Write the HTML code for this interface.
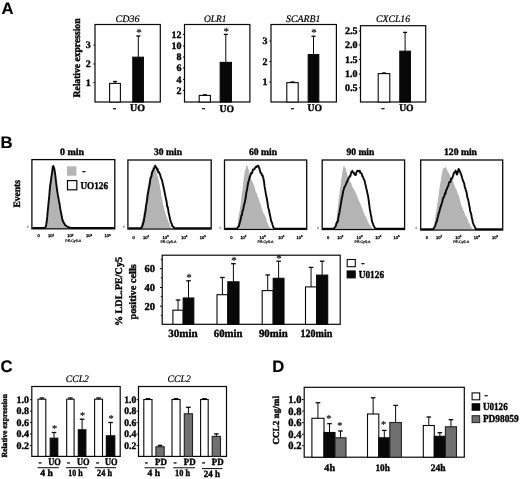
<!DOCTYPE html>
<html lang="en"><head><meta charset="utf-8"><title>Figure</title>
<style>
html,body{margin:0;padding:0;background:#fff;}
body{width:520px;height:479px;overflow:hidden;font-family:"Liberation Serif",serif;}
svg{display:block;}
</style></head><body>
<svg width="520" height="479" viewBox="0 0 520 479" text-rendering="geometricPrecision">
<rect width="520" height="479" fill="#fff"/>
<g style="filter:blur(0.3px)">
<text x="1.40" y="13.70" font-family="'Liberation Sans', sans-serif" font-size="16.7" font-weight="bold" font-style="normal" fill="#000" stroke="#000" stroke-width="0.15">A</text>
<text x="0.50" y="148.00" font-family="'Liberation Sans', sans-serif" font-size="16.7" font-weight="bold" font-style="normal" fill="#000" stroke="#000" stroke-width="0.15">B</text>
<text x="0.60" y="372.40" font-family="'Liberation Sans', sans-serif" font-size="16.7" font-weight="bold" font-style="normal" fill="#000" stroke="#000" stroke-width="0.15">C</text>
<text x="272.20" y="372.40" font-family="'Liberation Sans', sans-serif" font-size="16.7" font-weight="bold" font-style="normal" fill="#000" stroke="#000" stroke-width="0.15">D</text>
<rect x="95.00" y="24.50" width="65.30" height="77.50" fill="none" stroke="#080808" stroke-width="1.2"/>
<text x="127.50" y="21.80" font-family="'Liberation Serif', serif" font-size="10" font-weight="normal" font-style="italic" text-anchor="middle" textLength="24.00" lengthAdjust="spacingAndGlyphs" fill="#000" stroke="#000" stroke-width="0.22">CD36</text>
<path d="M93.40 45.00H95.00" stroke="#080808" stroke-width="1"/>
<text x="90.70" y="48.40" font-family="'Liberation Serif', serif" font-size="10" font-weight="bold" font-style="normal" text-anchor="end" fill="#000" stroke="#000" stroke-width="0.38">3</text>
<path d="M93.40 64.00H95.00" stroke="#080808" stroke-width="1"/>
<text x="90.70" y="67.40" font-family="'Liberation Serif', serif" font-size="10" font-weight="bold" font-style="normal" text-anchor="end" fill="#000" stroke="#000" stroke-width="0.38">2</text>
<path d="M93.40 82.40H95.00" stroke="#080808" stroke-width="1"/>
<text x="90.70" y="85.80" font-family="'Liberation Serif', serif" font-size="10" font-weight="bold" font-style="normal" text-anchor="end" fill="#000" stroke="#000" stroke-width="0.38">1</text>
<rect x="109.60" y="83.40" width="10.80" height="18.60" fill="#fff" stroke="#080808" stroke-width="1.1"/>
<path d="M115.00 83.40V81.30" stroke="#080808" stroke-width="1.0" fill="none"/><path d="M113.00 81.50H117.00" stroke="#080808" stroke-width="1.3" fill="none"/>
<rect x="132.80" y="57.20" width="10.60" height="44.80" fill="#080808" stroke="#080808" stroke-width="1.1"/>
<path d="M138.30 57.20V35.80" stroke="#080808" stroke-width="1.0" fill="none"/><path d="M136.30 36.00H140.30" stroke="#080808" stroke-width="1.3" fill="none"/>
<text x="139.00" y="35.59" font-family="'Liberation Serif', serif" font-size="11" font-weight="normal" font-style="normal" text-anchor="middle" fill="#000" stroke="#000" stroke-width="0.15">*</text>
<text x="114.50" y="111.00" font-family="'Liberation Serif', serif" font-size="10" font-weight="bold" font-style="normal" text-anchor="middle" fill="#000" stroke="#000" stroke-width="0.38">-</text>
<text x="137.60" y="111.00" font-family="'Liberation Serif', serif" font-size="10" font-weight="bold" font-style="normal" text-anchor="middle" textLength="15.00" lengthAdjust="spacingAndGlyphs" fill="#000" stroke="#000" stroke-width="0.38">UO</text>
<text x="80.20" y="97.50" font-family="'Liberation Serif', serif" font-size="10" font-weight="bold" font-style="normal" textLength="79.00" lengthAdjust="spacingAndGlyphs" transform="rotate(-90 80.20 97.50)" fill="#000" stroke="#000" stroke-width="0.38">Relative expression</text>
<rect x="184.50" y="24.50" width="65.40" height="77.50" fill="none" stroke="#080808" stroke-width="1.2"/>
<text x="215.20" y="21.80" font-family="'Liberation Serif', serif" font-size="10" font-weight="normal" font-style="italic" text-anchor="middle" textLength="22.40" lengthAdjust="spacingAndGlyphs" fill="#000" stroke="#000" stroke-width="0.22">OLR1</text>
<path d="M182.90 34.40H184.50" stroke="#080808" stroke-width="1"/>
<text x="181.60" y="37.80" font-family="'Liberation Serif', serif" font-size="10" font-weight="bold" font-style="normal" text-anchor="end" fill="#000" stroke="#000" stroke-width="0.38">12</text>
<path d="M182.90 46.00H184.50" stroke="#080808" stroke-width="1"/>
<text x="181.60" y="49.40" font-family="'Liberation Serif', serif" font-size="10" font-weight="bold" font-style="normal" text-anchor="end" fill="#000" stroke="#000" stroke-width="0.38">10</text>
<path d="M182.90 57.00H184.50" stroke="#080808" stroke-width="1"/>
<text x="181.60" y="60.40" font-family="'Liberation Serif', serif" font-size="10" font-weight="bold" font-style="normal" text-anchor="end" fill="#000" stroke="#000" stroke-width="0.38">8</text>
<path d="M182.90 68.00H184.50" stroke="#080808" stroke-width="1"/>
<text x="181.60" y="71.40" font-family="'Liberation Serif', serif" font-size="10" font-weight="bold" font-style="normal" text-anchor="end" fill="#000" stroke="#000" stroke-width="0.38">6</text>
<path d="M182.90 79.40H184.50" stroke="#080808" stroke-width="1"/>
<text x="181.60" y="82.80" font-family="'Liberation Serif', serif" font-size="10" font-weight="bold" font-style="normal" text-anchor="end" fill="#000" stroke="#000" stroke-width="0.38">4</text>
<path d="M182.90 90.40H184.50" stroke="#080808" stroke-width="1"/>
<text x="181.60" y="93.80" font-family="'Liberation Serif', serif" font-size="10" font-weight="bold" font-style="normal" text-anchor="end" fill="#000" stroke="#000" stroke-width="0.38">2</text>
<rect x="199.20" y="95.40" width="11.20" height="6.60" fill="#fff" stroke="#080808" stroke-width="1.1"/>
<path d="M204.80 95.40V94.60" stroke="#080808" stroke-width="1.0" fill="none"/><path d="M202.80 94.80H206.80" stroke="#080808" stroke-width="1.3" fill="none"/>
<rect x="220.20" y="62.40" width="11.20" height="39.60" fill="#080808" stroke="#080808" stroke-width="1.1"/>
<path d="M225.80 62.40V34.20" stroke="#080808" stroke-width="1.0" fill="none"/><path d="M223.80 34.40H227.80" stroke="#080808" stroke-width="1.3" fill="none"/>
<text x="226.30" y="34.99" font-family="'Liberation Serif', serif" font-size="11" font-weight="normal" font-style="normal" text-anchor="middle" fill="#000" stroke="#000" stroke-width="0.15">*</text>
<text x="203.50" y="111.40" font-family="'Liberation Serif', serif" font-size="10" font-weight="bold" font-style="normal" text-anchor="middle" fill="#000" stroke="#000" stroke-width="0.38">-</text>
<text x="226.80" y="111.60" font-family="'Liberation Serif', serif" font-size="10" font-weight="bold" font-style="normal" text-anchor="middle" textLength="14.50" lengthAdjust="spacingAndGlyphs" fill="#000" stroke="#000" stroke-width="0.38">UO</text>
<rect x="271.00" y="24.50" width="65.40" height="77.50" fill="none" stroke="#080808" stroke-width="1.2"/>
<text x="303.20" y="21.80" font-family="'Liberation Serif', serif" font-size="10" font-weight="normal" font-style="italic" text-anchor="middle" textLength="34.40" lengthAdjust="spacingAndGlyphs" fill="#000" stroke="#000" stroke-width="0.22">SCARB1</text>
<path d="M269.40 41.00H271.00" stroke="#080808" stroke-width="1"/>
<text x="267.50" y="44.40" font-family="'Liberation Serif', serif" font-size="10" font-weight="bold" font-style="normal" text-anchor="end" fill="#000" stroke="#000" stroke-width="0.38">3</text>
<path d="M269.40 61.60H271.00" stroke="#080808" stroke-width="1"/>
<text x="267.50" y="65.00" font-family="'Liberation Serif', serif" font-size="10" font-weight="bold" font-style="normal" text-anchor="end" fill="#000" stroke="#000" stroke-width="0.38">2</text>
<path d="M269.40 82.00H271.00" stroke="#080808" stroke-width="1"/>
<text x="267.50" y="85.40" font-family="'Liberation Serif', serif" font-size="10" font-weight="bold" font-style="normal" text-anchor="end" fill="#000" stroke="#000" stroke-width="0.38">1</text>
<rect x="286.80" y="82.60" width="11.40" height="19.40" fill="#fff" stroke="#080808" stroke-width="1.1"/>
<path d="M292.50 82.60V81.80" stroke="#080808" stroke-width="1.0" fill="none"/><path d="M290.50 82.00H294.50" stroke="#080808" stroke-width="1.3" fill="none"/>
<rect x="308.20" y="54.60" width="10.60" height="47.40" fill="#080808" stroke="#080808" stroke-width="1.1"/>
<path d="M313.50 54.60V36.00" stroke="#080808" stroke-width="1.0" fill="none"/><path d="M311.50 36.20H315.50" stroke="#080808" stroke-width="1.3" fill="none"/>
<text x="314.00" y="35.59" font-family="'Liberation Serif', serif" font-size="11" font-weight="normal" font-style="normal" text-anchor="middle" fill="#000" stroke="#000" stroke-width="0.15">*</text>
<text x="292.50" y="111.00" font-family="'Liberation Serif', serif" font-size="10" font-weight="bold" font-style="normal" text-anchor="middle" fill="#000" stroke="#000" stroke-width="0.38">-</text>
<text x="314.80" y="111.00" font-family="'Liberation Serif', serif" font-size="10" font-weight="bold" font-style="normal" text-anchor="middle" textLength="14.50" lengthAdjust="spacingAndGlyphs" fill="#000" stroke="#000" stroke-width="0.38">UO</text>
<rect x="360.50" y="25.70" width="65.20" height="76.30" fill="none" stroke="#080808" stroke-width="1.2"/>
<text x="393.00" y="21.90" font-family="'Liberation Serif', serif" font-size="10" font-weight="normal" font-style="italic" text-anchor="middle" textLength="34.00" lengthAdjust="spacingAndGlyphs" fill="#000" stroke="#000" stroke-width="0.22">CXCL16</text>
<path d="M358.90 31.00H360.50" stroke="#080808" stroke-width="1"/>
<text x="357.50" y="34.40" font-family="'Liberation Serif', serif" font-size="10" font-weight="bold" font-style="normal" text-anchor="end" fill="#000" stroke="#000" stroke-width="0.38">2.5</text>
<path d="M358.90 45.00H360.50" stroke="#080808" stroke-width="1"/>
<text x="357.50" y="48.40" font-family="'Liberation Serif', serif" font-size="10" font-weight="bold" font-style="normal" text-anchor="end" fill="#000" stroke="#000" stroke-width="0.38">2.0</text>
<path d="M358.90 59.40H360.50" stroke="#080808" stroke-width="1"/>
<text x="357.50" y="62.80" font-family="'Liberation Serif', serif" font-size="10" font-weight="bold" font-style="normal" text-anchor="end" fill="#000" stroke="#000" stroke-width="0.38">1.5</text>
<path d="M358.90 74.00H360.50" stroke="#080808" stroke-width="1"/>
<text x="357.50" y="77.40" font-family="'Liberation Serif', serif" font-size="10" font-weight="bold" font-style="normal" text-anchor="end" fill="#000" stroke="#000" stroke-width="0.38">1.0</text>
<path d="M358.90 87.80H360.50" stroke="#080808" stroke-width="1"/>
<text x="357.50" y="91.20" font-family="'Liberation Serif', serif" font-size="10" font-weight="bold" font-style="normal" text-anchor="end" fill="#000" stroke="#000" stroke-width="0.38">0.5</text>
<rect x="378.20" y="73.60" width="11.60" height="28.40" fill="#fff" stroke="#080808" stroke-width="1.1"/>
<path d="M384.00 73.60V72.80" stroke="#080808" stroke-width="1.0" fill="none"/><path d="M382.00 73.00H386.00" stroke="#080808" stroke-width="1.3" fill="none"/>
<rect x="399.80" y="51.20" width="10.60" height="50.80" fill="#080808" stroke="#080808" stroke-width="1.1"/>
<path d="M405.10 51.20V32.20" stroke="#080808" stroke-width="1.0" fill="none"/><path d="M403.10 32.40H407.10" stroke="#080808" stroke-width="1.3" fill="none"/>
<text x="383.00" y="111.00" font-family="'Liberation Serif', serif" font-size="10" font-weight="bold" font-style="normal" text-anchor="middle" fill="#000" stroke="#000" stroke-width="0.38">-</text>
<text x="406.40" y="111.00" font-family="'Liberation Serif', serif" font-size="10" font-weight="bold" font-style="normal" text-anchor="middle" textLength="14.50" lengthAdjust="spacingAndGlyphs" fill="#000" stroke="#000" stroke-width="0.38">UO</text>
<path d="M44.00 228.00 L44.50 228.00 L45.00 227.54 L45.50 226.77 L46.00 225.21 L46.50 220.44 L47.00 217.83 L47.50 211.02 L48.00 206.11 L48.50 200.36 L49.00 196.17 L49.50 189.80 L50.00 186.34 L50.50 182.19 L51.00 178.77 L51.50 173.80 L52.00 171.29 L52.50 168.31 L53.00 167.01 L53.50 167.52 L54.00 168.54 L54.50 172.17 L55.00 175.68 L55.50 179.57 L56.00 183.65 L56.50 186.48 L57.00 190.41 L57.50 193.45 L58.00 196.83 L58.50 199.77 L59.00 201.53 L59.50 204.25 L60.00 207.10 L60.50 210.18 L61.00 213.27 L61.50 216.19 L62.00 218.07 L62.50 220.65 L63.00 222.56 L63.50 223.12 L64.00 223.51 L64.50 223.88 L65.00 224.54 L65.50 225.39 L66.00 225.80 L66.50 226.17 L67.00 226.49 L67.50 226.76 L68.00 227.00 L68.50 227.20 L69.00 227.38 L69.50 227.55 L70.00 227.71 L70.50 227.86 L71.00 228.00 L71.50 228.00 L72.00 228.00 L72.50 228.00 L72.50 228.00 L44.00 228.00Z" fill="#b4b4b4" stroke="none"/>
<path d="M32.40 228.00 L44.20 228.00 L44.71 228.00 L45.21 227.52 L45.72 226.74 L46.22 225.09 L46.73 221.20 L47.23 216.91 L47.74 210.96 L48.24 206.17 L48.75 200.89 L49.25 196.25 L49.76 189.48 L50.26 185.11 L50.77 181.52 L51.27 177.76 L51.78 174.41 L52.28 171.03 L52.79 166.74 L53.29 166.08 L53.80 167.33 L54.31 168.85 L54.81 171.88 L55.32 175.41 L55.82 179.98 L56.33 184.24 L56.83 188.12 L57.34 191.61 L57.84 194.92 L58.35 197.35 L58.85 200.46 L59.36 202.72 L59.86 206.07 L60.37 209.23 L60.87 211.79 L61.38 214.36 L61.88 216.74 L62.39 219.69 L62.89 221.08 L63.40 221.95 L63.91 223.15 L64.41 223.56 L64.92 225.01 L65.42 225.14 L65.93 225.58 L66.43 225.96 L66.94 226.30 L67.44 226.60 L67.95 226.85 L68.45 227.07 L68.96 227.25 L69.46 227.43 L69.97 227.59 L70.47 227.75 L70.98 227.88 L71.48 228.00 L71.99 228.00 L72.49 228.00 L73.00 228.00 L114.30 228.00" fill="none" stroke="#080808" stroke-width="1.9" stroke-linejoin="round"/>
<rect x="31.90" y="159.60" width="82.90" height="69.20" fill="none" stroke="#080808" stroke-width="1.3"/>
<text x="72.00" y="154.60" font-family="'Liberation Serif', serif" font-size="9.8" font-weight="bold" font-style="normal" text-anchor="middle" textLength="24.00" lengthAdjust="spacingAndGlyphs" fill="#000" stroke="#000" stroke-width="0.38">0 min</text>
<text x="38.70" y="237.40" font-family="'Liberation Sans', sans-serif" font-size="4" font-weight="normal" font-style="normal" text-anchor="middle" fill="#000" stroke="#000" stroke-width="0.28">0</text>
<text x="50.97" y="237.40" font-family="'Liberation Sans', sans-serif" font-size="4" font-weight="normal" font-style="normal" text-anchor="middle" fill="#000" stroke="#000" stroke-width="0.28">10<tspan dy="-1.7" font-size="2.9">2</tspan></text>
<text x="70.37" y="237.40" font-family="'Liberation Sans', sans-serif" font-size="4" font-weight="normal" font-style="normal" text-anchor="middle" fill="#000" stroke="#000" stroke-width="0.28">10<tspan dy="-1.7" font-size="2.9">3</tspan></text>
<text x="89.11" y="237.40" font-family="'Liberation Sans', sans-serif" font-size="4" font-weight="normal" font-style="normal" text-anchor="middle" fill="#000" stroke="#000" stroke-width="0.28">10<tspan dy="-1.7" font-size="2.9">4</tspan></text>
<text x="107.51" y="237.40" font-family="'Liberation Sans', sans-serif" font-size="4" font-weight="normal" font-style="normal" text-anchor="middle" fill="#000" stroke="#000" stroke-width="0.28">10<tspan dy="-1.7" font-size="2.9">5</tspan></text>
<text x="73.27" y="242.00" font-family="'Liberation Sans', sans-serif" font-size="3.6" font-weight="normal" font-style="normal" text-anchor="middle" textLength="16.00" lengthAdjust="spacingAndGlyphs" fill="#000" stroke="#000" stroke-width="0.2">PE-Cy5-A</text>
<text x="27.70" y="227.90" font-family="'Liberation Sans', sans-serif" font-size="3.3" font-weight="normal" font-style="normal" text-anchor="middle" fill="#222">0</text>
<path d="M139.60 228.20 L140.11 227.07 L140.61 225.74 L141.12 225.07 L141.62 221.71 L142.13 220.32 L142.64 218.90 L143.14 215.67 L143.65 212.95 L144.16 209.81 L144.66 207.13 L145.17 204.57 L145.67 200.17 L146.18 196.43 L146.69 194.05 L147.19 190.30 L147.70 187.54 L148.21 185.30 L148.71 181.78 L149.22 179.69 L149.72 176.89 L150.23 175.06 L150.74 173.29 L151.24 170.97 L151.75 169.80 L152.26 168.36 L152.76 166.94 L153.27 166.04 L153.78 166.10 L154.28 167.50 L154.79 168.51 L155.29 170.80 L155.80 169.51 L156.31 171.97 L156.81 173.44 L157.32 175.49 L157.82 176.87 L158.33 178.23 L158.84 180.88 L159.34 183.53 L159.85 185.62 L160.36 189.12 L160.86 191.02 L161.37 195.96 L161.88 198.62 L162.38 200.43 L162.89 203.52 L163.39 205.70 L163.90 207.51 L164.41 209.93 L164.91 212.14 L165.42 213.07 L165.93 214.58 L166.43 216.15 L166.94 217.76 L167.44 219.49 L167.95 219.84 L168.46 221.73 L168.96 222.99 L169.47 223.34 L169.97 225.55 L170.48 226.63 L170.99 227.39 L171.49 227.88 L172.00 228.20 L172.00 228.20 L139.60 228.20Z" fill="#b4b4b4" stroke="none"/>
<path d="M128.40 228.20 L140.60 228.20 L141.10 228.20 L141.60 227.41 L142.10 226.66 L142.61 225.38 L143.11 223.24 L143.61 222.11 L144.11 219.12 L144.61 216.56 L145.11 212.67 L145.61 211.00 L146.12 205.14 L146.62 203.18 L147.12 200.10 L147.62 195.05 L148.12 192.83 L148.62 189.62 L149.12 187.07 L149.63 184.50 L150.13 180.82 L150.63 177.73 L151.13 177.18 L151.63 175.22 L152.13 172.53 L152.63 171.54 L153.14 170.36 L153.64 169.45 L154.14 168.24 L154.64 168.12 L155.14 165.65 L155.64 167.13 L156.14 167.19 L156.65 167.85 L157.15 169.96 L157.65 169.08 L158.15 172.13 L158.65 172.44 L159.15 172.25 L159.66 173.93 L160.16 174.36 L160.66 177.15 L161.16 178.18 L161.66 179.32 L162.16 180.84 L162.66 183.12 L163.17 185.50 L163.67 187.68 L164.17 189.87 L164.67 192.49 L165.17 195.12 L165.67 197.42 L166.17 199.80 L166.68 202.17 L167.18 206.73 L167.68 206.78 L168.18 209.60 L168.68 213.01 L169.18 214.97 L169.68 217.60 L170.19 219.67 L170.69 221.64 L171.19 222.95 L171.69 223.36 L172.19 225.85 L172.69 226.12 L173.19 226.75 L173.70 227.30 L174.20 227.77 L174.70 228.20 L175.20 228.20 L210.70 228.20" fill="none" stroke="#080808" stroke-width="1.9" stroke-linejoin="round"/>
<rect x="127.90" y="160.00" width="83.30" height="69.00" fill="none" stroke="#080808" stroke-width="1.3"/>
<text x="168.00" y="154.60" font-family="'Liberation Serif', serif" font-size="9.8" font-weight="bold" font-style="normal" text-anchor="middle" textLength="28.00" lengthAdjust="spacingAndGlyphs" fill="#000" stroke="#000" stroke-width="0.38">30 min</text>
<text x="133.73" y="238.60" font-family="'Liberation Sans', sans-serif" font-size="4" font-weight="normal" font-style="normal" text-anchor="middle" fill="#000" stroke="#000" stroke-width="0.28">0</text>
<text x="146.06" y="238.60" font-family="'Liberation Sans', sans-serif" font-size="4" font-weight="normal" font-style="normal" text-anchor="middle" fill="#000" stroke="#000" stroke-width="0.28">10<tspan dy="-1.7" font-size="2.9">2</tspan></text>
<text x="165.55" y="238.60" font-family="'Liberation Sans', sans-serif" font-size="4" font-weight="normal" font-style="normal" text-anchor="middle" fill="#000" stroke="#000" stroke-width="0.28">10<tspan dy="-1.7" font-size="2.9">3</tspan></text>
<text x="184.38" y="238.60" font-family="'Liberation Sans', sans-serif" font-size="4" font-weight="normal" font-style="normal" text-anchor="middle" fill="#000" stroke="#000" stroke-width="0.28">10<tspan dy="-1.7" font-size="2.9">4</tspan></text>
<text x="202.87" y="238.60" font-family="'Liberation Sans', sans-serif" font-size="4" font-weight="normal" font-style="normal" text-anchor="middle" fill="#000" stroke="#000" stroke-width="0.28">10<tspan dy="-1.7" font-size="2.9">5</tspan></text>
<text x="168.47" y="243.20" font-family="'Liberation Sans', sans-serif" font-size="3.6" font-weight="normal" font-style="normal" text-anchor="middle" textLength="16.00" lengthAdjust="spacingAndGlyphs" fill="#000" stroke="#000" stroke-width="0.2">PE-Cy5-A</text>
<text x="123.70" y="228.10" font-family="'Liberation Sans', sans-serif" font-size="3.3" font-weight="normal" font-style="normal" text-anchor="middle" fill="#222">0</text>
<path d="M236.60 228.60 L237.10 227.86 L237.61 226.32 L238.11 219.79 L238.61 216.60 L239.11 213.63 L239.62 211.06 L240.12 207.81 L240.62 204.53 L241.13 200.37 L241.63 195.81 L242.13 192.78 L242.64 188.40 L243.14 184.31 L243.64 179.39 L244.14 175.91 L244.65 172.98 L245.15 169.98 L245.65 169.19 L246.16 166.44 L246.66 164.97 L247.16 165.19 L247.66 167.19 L248.17 168.22 L248.67 169.36 L249.17 171.64 L249.68 174.46 L250.18 175.87 L250.68 177.07 L251.19 178.70 L251.69 180.47 L252.19 182.34 L252.69 182.02 L253.20 183.70 L253.70 185.01 L254.20 185.60 L254.71 187.77 L255.21 189.14 L255.71 191.63 L256.21 192.43 L256.72 193.11 L257.22 195.66 L257.72 196.57 L258.23 197.29 L258.73 199.29 L259.23 200.73 L259.74 202.01 L260.24 203.89 L260.74 204.15 L261.24 206.53 L261.75 208.54 L262.25 209.80 L262.75 211.23 L263.26 212.52 L263.76 213.96 L264.26 213.90 L264.76 216.11 L265.27 215.98 L265.77 217.81 L266.27 218.36 L266.78 221.14 L267.28 222.63 L267.78 223.21 L268.29 225.48 L268.79 225.74 L269.29 226.69 L269.79 227.39 L270.30 227.87 L270.80 228.60 L270.80 228.60 L236.60 228.60Z" fill="#b4b4b4" stroke="none"/>
<path d="M225.00 228.60 L236.90 228.60 L237.40 227.92 L237.91 227.39 L238.41 226.53 L238.91 226.27 L239.41 223.86 L239.92 222.16 L240.42 220.29 L240.92 218.27 L241.42 215.41 L241.93 215.10 L242.43 211.36 L242.93 210.20 L243.43 208.25 L243.94 205.19 L244.44 203.56 L244.94 201.88 L245.45 198.79 L245.95 195.79 L246.45 191.92 L246.95 189.99 L247.46 186.95 L247.96 184.05 L248.46 181.50 L248.96 180.26 L249.47 177.82 L249.97 176.43 L250.47 175.46 L250.97 173.34 L251.48 172.66 L251.98 173.21 L252.48 171.61 L252.99 169.55 L253.49 169.59 L253.99 169.37 L254.49 169.23 L255.00 168.11 L255.50 167.22 L256.00 166.64 L256.50 167.04 L257.01 166.49 L257.51 165.73 L258.01 165.80 L258.51 165.90 L259.02 167.78 L259.52 168.67 L260.02 171.14 L260.53 172.68 L261.03 173.37 L261.53 173.35 L262.03 175.46 L262.54 175.25 L263.04 177.32 L263.54 179.10 L264.04 181.74 L264.55 186.22 L265.05 189.19 L265.55 191.88 L266.05 194.99 L266.56 197.28 L267.06 199.98 L267.56 203.01 L268.07 206.88 L268.57 208.78 L269.07 210.46 L269.57 213.56 L270.08 215.44 L270.58 217.87 L271.08 220.90 L271.58 222.00 L272.09 222.96 L272.59 224.99 L273.09 226.81 L273.59 227.60 L274.10 228.60 L274.60 228.60 L306.20 228.60" fill="none" stroke="#080808" stroke-width="1.9" stroke-linejoin="round"/>
<rect x="224.50" y="160.00" width="82.20" height="69.40" fill="none" stroke="#080808" stroke-width="1.3"/>
<text x="263.00" y="154.60" font-family="'Liberation Serif', serif" font-size="9.8" font-weight="bold" font-style="normal" text-anchor="middle" textLength="28.00" lengthAdjust="spacingAndGlyphs" fill="#000" stroke="#000" stroke-width="0.38">60 min</text>
<text x="231.25" y="238.60" font-family="'Liberation Sans', sans-serif" font-size="4" font-weight="normal" font-style="normal" text-anchor="middle" fill="#000" stroke="#000" stroke-width="0.28">0</text>
<text x="243.42" y="238.60" font-family="'Liberation Sans', sans-serif" font-size="4" font-weight="normal" font-style="normal" text-anchor="middle" fill="#000" stroke="#000" stroke-width="0.28">10<tspan dy="-1.7" font-size="2.9">2</tspan></text>
<text x="262.65" y="238.60" font-family="'Liberation Sans', sans-serif" font-size="4" font-weight="normal" font-style="normal" text-anchor="middle" fill="#000" stroke="#000" stroke-width="0.28">10<tspan dy="-1.7" font-size="2.9">3</tspan></text>
<text x="281.23" y="238.60" font-family="'Liberation Sans', sans-serif" font-size="4" font-weight="normal" font-style="normal" text-anchor="middle" fill="#000" stroke="#000" stroke-width="0.28">10<tspan dy="-1.7" font-size="2.9">4</tspan></text>
<text x="299.48" y="238.60" font-family="'Liberation Sans', sans-serif" font-size="4" font-weight="normal" font-style="normal" text-anchor="middle" fill="#000" stroke="#000" stroke-width="0.28">10<tspan dy="-1.7" font-size="2.9">5</tspan></text>
<text x="265.53" y="243.20" font-family="'Liberation Sans', sans-serif" font-size="3.6" font-weight="normal" font-style="normal" text-anchor="middle" textLength="16.00" lengthAdjust="spacingAndGlyphs" fill="#000" stroke="#000" stroke-width="0.2">PE-Cy5-A</text>
<text x="220.30" y="228.50" font-family="'Liberation Sans', sans-serif" font-size="3.3" font-weight="normal" font-style="normal" text-anchor="middle" fill="#222">0</text>
<path d="M334.40 228.70 L334.90 228.70 L335.40 227.40 L335.90 225.64 L336.41 221.12 L336.91 216.15 L337.41 211.77 L337.91 207.02 L338.41 202.22 L338.91 197.33 L339.41 194.31 L339.91 190.16 L340.42 186.60 L340.92 182.75 L341.42 178.35 L341.92 175.75 L342.42 171.68 L342.92 169.27 L343.42 166.74 L343.92 166.31 L344.43 166.25 L344.93 167.51 L345.43 168.46 L345.93 168.78 L346.43 172.09 L346.93 173.26 L347.43 176.09 L347.94 176.56 L348.44 179.28 L348.94 178.95 L349.44 180.35 L349.94 181.92 L350.44 182.59 L350.94 182.30 L351.44 183.85 L351.95 185.81 L352.45 187.42 L352.95 187.79 L353.45 188.16 L353.95 189.66 L354.45 189.67 L354.95 191.50 L355.46 191.62 L355.96 193.38 L356.46 194.46 L356.96 196.10 L357.46 196.76 L357.96 198.74 L358.46 199.28 L358.96 201.04 L359.47 202.26 L359.97 202.17 L360.47 204.33 L360.97 205.55 L361.47 206.38 L361.97 208.10 L362.47 208.52 L362.98 210.76 L363.48 211.95 L363.98 213.04 L364.48 215.28 L364.98 215.33 L365.48 216.28 L365.98 216.97 L366.48 218.55 L366.99 218.98 L367.49 221.12 L367.99 221.16 L368.49 222.51 L368.99 224.32 L369.49 224.75 L369.99 225.07 L370.49 226.38 L371.00 226.38 L371.50 227.03 L372.00 227.64 L372.50 228.70 L372.50 228.70 L334.40 228.70Z" fill="#b4b4b4" stroke="none"/>
<path d="M322.70 228.70 L333.80 228.70 L334.30 227.94 L334.80 227.50 L335.30 226.89 L335.80 226.01 L336.30 223.45 L336.80 223.19 L337.30 221.43 L337.80 221.67 L338.30 218.02 L338.80 214.88 L339.30 213.57 L339.80 210.18 L340.30 207.33 L340.80 204.31 L341.30 201.34 L341.80 198.24 L342.30 196.32 L342.80 193.53 L343.30 190.77 L343.80 189.25 L344.30 187.29 L344.80 186.68 L345.30 185.72 L345.80 184.51 L346.30 183.34 L346.80 181.80 L347.30 181.77 L347.80 179.71 L348.30 178.90 L348.80 177.76 L349.30 177.08 L349.80 175.87 L350.30 176.16 L350.80 174.15 L351.30 171.95 L351.80 171.94 L352.30 170.84 L352.80 172.03 L353.30 172.75 L353.80 172.61 L354.30 174.30 L354.80 174.50 L355.30 174.82 L355.80 174.99 L356.30 172.77 L356.80 171.17 L357.30 171.42 L357.80 170.76 L358.30 170.85 L358.80 171.34 L359.30 170.79 L359.80 170.63 L360.30 173.13 L360.80 172.99 L361.30 173.21 L361.80 173.98 L362.30 176.19 L362.80 176.57 L363.30 177.71 L363.80 179.28 L364.30 179.96 L364.80 181.64 L365.30 183.92 L365.80 185.92 L366.30 188.47 L366.80 190.17 L367.30 192.87 L367.80 194.85 L368.30 197.61 L368.80 201.04 L369.30 205.08 L369.80 208.95 L370.30 211.58 L370.80 214.51 L371.30 216.72 L371.80 220.07 L372.30 222.53 L372.80 222.96 L373.30 225.11 L373.80 225.87 L374.30 226.92 L374.80 227.72 L375.30 228.70 L404.10 228.70" fill="none" stroke="#080808" stroke-width="1.9" stroke-linejoin="round"/>
<rect x="322.20" y="160.00" width="82.40" height="69.50" fill="none" stroke="#080808" stroke-width="1.3"/>
<text x="360.40" y="154.60" font-family="'Liberation Serif', serif" font-size="9.8" font-weight="bold" font-style="normal" text-anchor="middle" textLength="27.80" lengthAdjust="spacingAndGlyphs" fill="#000" stroke="#000" stroke-width="0.38">90 min</text>
<text x="328.17" y="238.60" font-family="'Liberation Sans', sans-serif" font-size="4" font-weight="normal" font-style="normal" text-anchor="middle" fill="#000" stroke="#000" stroke-width="0.28">0</text>
<text x="340.36" y="238.60" font-family="'Liberation Sans', sans-serif" font-size="4" font-weight="normal" font-style="normal" text-anchor="middle" fill="#000" stroke="#000" stroke-width="0.28">10<tspan dy="-1.7" font-size="2.9">2</tspan></text>
<text x="359.64" y="238.60" font-family="'Liberation Sans', sans-serif" font-size="4" font-weight="normal" font-style="normal" text-anchor="middle" fill="#000" stroke="#000" stroke-width="0.28">10<tspan dy="-1.7" font-size="2.9">3</tspan></text>
<text x="378.27" y="238.60" font-family="'Liberation Sans', sans-serif" font-size="4" font-weight="normal" font-style="normal" text-anchor="middle" fill="#000" stroke="#000" stroke-width="0.28">10<tspan dy="-1.7" font-size="2.9">4</tspan></text>
<text x="396.56" y="238.60" font-family="'Liberation Sans', sans-serif" font-size="4" font-weight="normal" font-style="normal" text-anchor="middle" fill="#000" stroke="#000" stroke-width="0.28">10<tspan dy="-1.7" font-size="2.9">5</tspan></text>
<text x="362.53" y="243.20" font-family="'Liberation Sans', sans-serif" font-size="3.6" font-weight="normal" font-style="normal" text-anchor="middle" textLength="16.00" lengthAdjust="spacingAndGlyphs" fill="#000" stroke="#000" stroke-width="0.2">PE-Cy5-A</text>
<text x="318.00" y="228.60" font-family="'Liberation Sans', sans-serif" font-size="3.3" font-weight="normal" font-style="normal" text-anchor="middle" fill="#222">0</text>
<path d="M432.40 229.20 L432.90 229.20 L433.41 227.89 L433.91 226.23 L434.42 222.82 L434.92 219.64 L435.43 215.19 L435.93 212.44 L436.44 209.91 L436.94 206.61 L437.45 202.91 L437.95 199.91 L438.46 196.24 L438.96 193.15 L439.47 188.37 L439.97 185.10 L440.48 182.49 L440.98 179.88 L441.49 175.47 L441.99 173.95 L442.50 170.90 L443.00 169.30 L443.51 168.34 L444.01 167.83 L444.52 167.95 L445.02 167.45 L445.53 167.05 L446.03 167.34 L446.54 168.50 L447.04 169.67 L447.55 171.36 L448.05 171.68 L448.56 172.85 L449.06 173.61 L449.57 174.44 L450.07 175.42 L450.58 176.28 L451.08 177.83 L451.59 178.17 L452.09 180.12 L452.60 180.36 L453.10 181.48 L453.61 183.00 L454.11 184.35 L454.62 185.51 L455.12 187.21 L455.63 188.31 L456.13 189.18 L456.64 189.97 L457.14 191.34 L457.65 193.40 L458.15 194.19 L458.66 194.93 L459.16 196.92 L459.67 198.75 L460.17 201.42 L460.68 202.51 L461.18 205.27 L461.69 205.93 L462.19 207.07 L462.70 208.14 L463.20 210.14 L463.71 210.80 L464.21 211.74 L464.72 213.64 L465.22 214.52 L465.73 216.25 L466.23 216.73 L466.74 216.43 L467.24 219.33 L467.75 219.06 L468.25 221.89 L468.76 223.24 L469.26 223.32 L469.77 224.11 L470.27 225.04 L470.78 226.60 L471.28 227.22 L471.79 227.59 L472.29 227.89 L472.80 229.20 L473.30 229.20 L473.30 229.20 L432.40 229.20Z" fill="#b4b4b4" stroke="none"/>
<path d="M421.20 229.20 L432.90 229.20 L433.40 229.20 L433.91 227.90 L434.41 227.35 L434.92 226.38 L435.42 225.05 L435.93 223.44 L436.43 221.86 L436.94 221.14 L437.44 218.27 L437.95 216.70 L438.45 214.44 L438.96 212.58 L439.46 211.49 L439.97 208.88 L440.47 207.07 L440.98 205.92 L441.48 204.23 L441.98 202.74 L442.49 200.76 L442.99 198.06 L443.50 198.00 L444.00 196.49 L444.51 195.43 L445.01 192.97 L445.52 193.69 L446.02 190.16 L446.53 190.07 L447.03 188.43 L447.54 186.90 L448.04 186.50 L448.55 184.71 L449.05 182.37 L449.56 182.01 L450.06 181.94 L450.56 181.99 L451.07 178.77 L451.57 178.68 L452.08 178.61 L452.58 177.18 L453.09 175.61 L453.59 173.87 L454.10 172.55 L454.60 172.24 L455.11 171.85 L455.61 170.59 L456.12 171.91 L456.62 174.44 L457.13 174.38 L457.63 172.81 L458.14 170.85 L458.64 168.90 L459.14 169.76 L459.65 170.91 L460.15 172.39 L460.66 173.00 L461.16 174.41 L461.67 176.29 L462.17 178.08 L462.68 179.67 L463.18 181.34 L463.69 182.06 L464.19 183.28 L464.70 186.60 L465.20 187.89 L465.71 189.84 L466.21 191.31 L466.72 193.09 L467.22 196.80 L467.72 198.39 L468.23 199.69 L468.73 202.85 L469.24 205.25 L469.74 207.93 L470.25 211.50 L470.75 212.60 L471.26 214.22 L471.76 217.47 L472.27 219.43 L472.77 222.24 L473.28 223.66 L473.78 225.02 L474.29 225.64 L474.79 226.97 L475.30 227.73 L475.80 229.20 L502.20 229.20" fill="none" stroke="#080808" stroke-width="1.9" stroke-linejoin="round"/>
<rect x="420.70" y="160.00" width="82.00" height="70.00" fill="none" stroke="#080808" stroke-width="1.3"/>
<text x="460.50" y="154.60" font-family="'Liberation Serif', serif" font-size="9.8" font-weight="bold" font-style="normal" text-anchor="middle" textLength="33.00" lengthAdjust="spacingAndGlyphs" fill="#000" stroke="#000" stroke-width="0.38">120 min</text>
<text x="426.94" y="238.60" font-family="'Liberation Sans', sans-serif" font-size="4" font-weight="normal" font-style="normal" text-anchor="middle" fill="#000" stroke="#000" stroke-width="0.28">0</text>
<text x="439.08" y="238.60" font-family="'Liberation Sans', sans-serif" font-size="4" font-weight="normal" font-style="normal" text-anchor="middle" fill="#000" stroke="#000" stroke-width="0.28">10<tspan dy="-1.7" font-size="2.9">2</tspan></text>
<text x="458.26" y="238.60" font-family="'Liberation Sans', sans-serif" font-size="4" font-weight="normal" font-style="normal" text-anchor="middle" fill="#000" stroke="#000" stroke-width="0.28">10<tspan dy="-1.7" font-size="2.9">3</tspan></text>
<text x="476.80" y="238.60" font-family="'Liberation Sans', sans-serif" font-size="4" font-weight="normal" font-style="normal" text-anchor="middle" fill="#000" stroke="#000" stroke-width="0.28">10<tspan dy="-1.7" font-size="2.9">4</tspan></text>
<text x="495.00" y="238.60" font-family="'Liberation Sans', sans-serif" font-size="4" font-weight="normal" font-style="normal" text-anchor="middle" fill="#000" stroke="#000" stroke-width="0.28">10<tspan dy="-1.7" font-size="2.9">5</tspan></text>
<text x="461.13" y="243.20" font-family="'Liberation Sans', sans-serif" font-size="3.6" font-weight="normal" font-style="normal" text-anchor="middle" textLength="16.00" lengthAdjust="spacingAndGlyphs" fill="#000" stroke="#000" stroke-width="0.2">PE-Cy5-A</text>
<text x="416.50" y="229.10" font-family="'Liberation Sans', sans-serif" font-size="3.3" font-weight="normal" font-style="normal" text-anchor="middle" fill="#222">0</text>
<text x="19.60" y="207.60" font-family="'Liberation Serif', serif" font-size="9.6" font-weight="bold" font-style="normal" textLength="27.50" lengthAdjust="spacingAndGlyphs" transform="rotate(-90 19.60 207.60)" fill="#000" stroke="#000" stroke-width="0.38">Events</text>
<rect x="67" y="166.3" width="9.4" height="9.4" fill="#b4b4b4"/>
<rect x="67.5" y="180.6" width="9.3" height="9.2" fill="#fff" stroke="#080808" stroke-width="1.2"/>
<text x="84.00" y="174.20" font-family="'Liberation Serif', serif" font-size="10" font-weight="bold" font-style="normal" text-anchor="middle" fill="#000" stroke="#000" stroke-width="0.38">-</text>
<text x="80.50" y="189.00" font-family="'Liberation Serif', serif" font-size="10.4" font-weight="bold" font-style="normal" textLength="27.50" lengthAdjust="spacingAndGlyphs" fill="#000" stroke="#000" stroke-width="0.38">UO126</text>
<rect x="162.20" y="255.20" width="178.00" height="69.10" fill="none" stroke="#080808" stroke-width="1.2"/>
<path d="M160.80 259.70H162.20" stroke="#080808" stroke-width="1"/>
<path d="M160.80 277.90H162.20" stroke="#080808" stroke-width="1"/>
<path d="M160.80 296.60H162.20" stroke="#080808" stroke-width="1"/>
<path d="M160.80 315.30H162.20" stroke="#080808" stroke-width="1"/>
<path d="M160.00 268.70H162.20" stroke="#080808" stroke-width="1"/>
<text x="155.00" y="272.10" font-family="'Liberation Serif', serif" font-size="10.5" font-weight="bold" font-style="normal" text-anchor="end" fill="#000" stroke="#000" stroke-width="0.38">60</text>
<path d="M160.00 287.50H162.20" stroke="#080808" stroke-width="1"/>
<text x="155.00" y="290.90" font-family="'Liberation Serif', serif" font-size="10.5" font-weight="bold" font-style="normal" text-anchor="end" fill="#000" stroke="#000" stroke-width="0.38">40</text>
<path d="M160.00 306.20H162.20" stroke="#080808" stroke-width="1"/>
<text x="155.00" y="309.60" font-family="'Liberation Serif', serif" font-size="10.5" font-weight="bold" font-style="normal" text-anchor="end" fill="#000" stroke="#000" stroke-width="0.38">20</text>
<text x="122.40" y="326.00" font-family="'Liberation Serif', serif" font-size="10" font-weight="bold" font-style="normal" textLength="69.00" lengthAdjust="spacingAndGlyphs" transform="rotate(-90 122.40 326.00)" fill="#000" stroke="#000" stroke-width="0.38">% LDL.PE/Cy5</text>
<text x="136.50" y="319.60" font-family="'Liberation Serif', serif" font-size="10" font-weight="bold" font-style="normal" textLength="55.40" lengthAdjust="spacingAndGlyphs" transform="rotate(-90 136.50 319.60)" fill="#000" stroke="#000" stroke-width="0.38">positive cells</text>
<rect x="172.90" y="310.20" width="10.30" height="14.10" fill="#fff" stroke="#080808" stroke-width="1.1"/>
<path d="M178.05 310.20V299.80" stroke="#080808" stroke-width="1.0" fill="none"/><path d="M175.75 300.00H180.35" stroke="#080808" stroke-width="1.3" fill="none"/>
<rect x="183.20" y="298.00" width="10.60" height="26.30" fill="#080808" stroke="#080808" stroke-width="1.1"/>
<path d="M188.50 298.00V280.60" stroke="#080808" stroke-width="1.0" fill="none"/><path d="M186.20 280.80H190.80" stroke="#080808" stroke-width="1.3" fill="none"/>
<text x="189.00" y="281.19" font-family="'Liberation Serif', serif" font-size="11" font-weight="normal" font-style="normal" text-anchor="middle" fill="#000" stroke="#000" stroke-width="0.15">*</text>
<rect x="217.00" y="294.70" width="10.80" height="29.60" fill="#fff" stroke="#080808" stroke-width="1.1"/>
<path d="M222.40 294.70V277.30" stroke="#080808" stroke-width="1.0" fill="none"/><path d="M220.10 277.50H224.70" stroke="#080808" stroke-width="1.3" fill="none"/>
<rect x="227.80" y="281.80" width="11.20" height="42.50" fill="#080808" stroke="#080808" stroke-width="1.1"/>
<path d="M233.40 281.80V263.50" stroke="#080808" stroke-width="1.0" fill="none"/><path d="M231.10 263.70H235.70" stroke="#080808" stroke-width="1.3" fill="none"/>
<text x="233.90" y="263.99" font-family="'Liberation Serif', serif" font-size="11" font-weight="normal" font-style="normal" text-anchor="middle" fill="#000" stroke="#000" stroke-width="0.15">*</text>
<rect x="262.20" y="290.60" width="11.00" height="33.70" fill="#fff" stroke="#080808" stroke-width="1.1"/>
<path d="M267.70 290.60V274.80" stroke="#080808" stroke-width="1.0" fill="none"/><path d="M265.40 275.00H270.00" stroke="#080808" stroke-width="1.3" fill="none"/>
<rect x="273.20" y="278.30" width="10.80" height="46.00" fill="#080808" stroke="#080808" stroke-width="1.1"/>
<path d="M278.60 278.30V261.00" stroke="#080808" stroke-width="1.0" fill="none"/><path d="M276.30 261.20H280.90" stroke="#080808" stroke-width="1.3" fill="none"/>
<text x="279.10" y="262.49" font-family="'Liberation Serif', serif" font-size="11" font-weight="normal" font-style="normal" text-anchor="middle" fill="#000" stroke="#000" stroke-width="0.15">*</text>
<rect x="305.50" y="286.90" width="11.10" height="37.40" fill="#fff" stroke="#080808" stroke-width="1.1"/>
<path d="M311.05 286.90V267.20" stroke="#080808" stroke-width="1.0" fill="none"/><path d="M308.75 267.40H313.35" stroke="#080808" stroke-width="1.3" fill="none"/>
<rect x="316.60" y="275.10" width="11.10" height="49.20" fill="#080808" stroke="#080808" stroke-width="1.1"/>
<path d="M322.15 275.10V261.00" stroke="#080808" stroke-width="1.0" fill="none"/><path d="M319.85 261.20H324.45" stroke="#080808" stroke-width="1.3" fill="none"/>
<text x="183.00" y="336.60" font-family="'Liberation Serif', serif" font-size="11" font-weight="bold" font-style="normal" text-anchor="middle" textLength="29.50" lengthAdjust="spacingAndGlyphs" fill="#000" stroke="#000" stroke-width="0.38">30min</text>
<text x="228.10" y="336.60" font-family="'Liberation Serif', serif" font-size="11" font-weight="bold" font-style="normal" text-anchor="middle" textLength="28.70" lengthAdjust="spacingAndGlyphs" fill="#000" stroke="#000" stroke-width="0.38">60min</text>
<text x="273.30" y="336.60" font-family="'Liberation Serif', serif" font-size="11" font-weight="bold" font-style="normal" text-anchor="middle" textLength="28.70" lengthAdjust="spacingAndGlyphs" fill="#000" stroke="#000" stroke-width="0.38">90min</text>
<text x="316.40" y="336.60" font-family="'Liberation Serif', serif" font-size="11" font-weight="bold" font-style="normal" text-anchor="middle" textLength="31.70" lengthAdjust="spacingAndGlyphs" fill="#000" stroke="#000" stroke-width="0.38">120min</text>
<rect x="347.2" y="259.5" width="8.1" height="7.2" fill="#fff" stroke="#080808" stroke-width="1.1"/>
<rect x="346.6" y="270.4" width="9.2" height="8" fill="#080808"/>
<text x="362.80" y="265.80" font-family="'Liberation Serif', serif" font-size="10" font-weight="bold" font-style="normal" text-anchor="middle" fill="#000" stroke="#000" stroke-width="0.38">-</text>
<text x="358.70" y="278.10" font-family="'Liberation Serif', serif" font-size="10.7" font-weight="bold" font-style="normal" textLength="25.40" lengthAdjust="spacingAndGlyphs" fill="#000" stroke="#000" stroke-width="0.38">U0126</text>
<rect x="31.80" y="386.50" width="88.40" height="69.90" fill="none" stroke="#080808" stroke-width="1.2"/>
<text x="77.30" y="381.60" font-family="'Liberation Serif', serif" font-size="10" font-weight="normal" font-style="italic" text-anchor="middle" textLength="23.00" lengthAdjust="spacingAndGlyphs" fill="#000" stroke="#000" stroke-width="0.22">CCL2</text>
<path d="M30.00 399.70H31.80" stroke="#080808" stroke-width="1"/>
<text x="28.90" y="403.00" font-family="'Liberation Serif', serif" font-size="10" font-weight="bold" font-style="normal" text-anchor="end" textLength="12.50" lengthAdjust="spacingAndGlyphs" fill="#000" stroke="#000" stroke-width="0.38">1.0</text>
<path d="M30.00 411.14H31.80" stroke="#080808" stroke-width="1"/>
<text x="28.90" y="414.44" font-family="'Liberation Serif', serif" font-size="10" font-weight="bold" font-style="normal" text-anchor="end" textLength="12.50" lengthAdjust="spacingAndGlyphs" fill="#000" stroke="#000" stroke-width="0.38">0.8</text>
<path d="M30.00 422.58H31.80" stroke="#080808" stroke-width="1"/>
<text x="28.90" y="425.88" font-family="'Liberation Serif', serif" font-size="10" font-weight="bold" font-style="normal" text-anchor="end" textLength="12.50" lengthAdjust="spacingAndGlyphs" fill="#000" stroke="#000" stroke-width="0.38">0.6</text>
<path d="M30.00 434.02H31.80" stroke="#080808" stroke-width="1"/>
<text x="28.90" y="437.32" font-family="'Liberation Serif', serif" font-size="10" font-weight="bold" font-style="normal" text-anchor="end" textLength="12.50" lengthAdjust="spacingAndGlyphs" fill="#000" stroke="#000" stroke-width="0.38">0.4</text>
<path d="M30.00 445.46H31.80" stroke="#080808" stroke-width="1"/>
<text x="28.90" y="448.76" font-family="'Liberation Serif', serif" font-size="10" font-weight="bold" font-style="normal" text-anchor="end" textLength="12.50" lengthAdjust="spacingAndGlyphs" fill="#000" stroke="#000" stroke-width="0.38">0.2</text>
<text x="7.30" y="457.60" font-family="'Liberation Serif', serif" font-size="7.8" font-weight="bold" font-style="normal" textLength="63.60" lengthAdjust="spacingAndGlyphs" transform="rotate(-90 7.30 457.60)" fill="#000" stroke="#000" stroke-width="0.38">Relative expression</text>
<rect x="38.00" y="399.20" width="7.80" height="57.20" fill="#fff" stroke="#080808" stroke-width="1.1"/>
<path d="M41.90 399.20V397.80" stroke="#080808" stroke-width="1.0" fill="none"/><path d="M39.60 398.00H44.20" stroke="#080808" stroke-width="1.3" fill="none"/>
<rect x="50.20" y="438.20" width="7.60" height="18.20" fill="#080808" stroke="#080808" stroke-width="1.1"/>
<path d="M54.00 438.20V432.30" stroke="#080808" stroke-width="1.0" fill="none"/><path d="M51.70 432.50H56.30" stroke="#080808" stroke-width="1.3" fill="none"/>
<text x="54.50" y="432.14" font-family="'Liberation Serif', serif" font-size="10.5" font-weight="normal" font-style="normal" text-anchor="middle" fill="#000" stroke="#000" stroke-width="0.15">*</text>
<rect x="66.70" y="399.20" width="7.40" height="57.20" fill="#fff" stroke="#080808" stroke-width="1.1"/>
<path d="M70.40 399.20V397.80" stroke="#080808" stroke-width="1.0" fill="none"/><path d="M68.10 398.00H72.70" stroke="#080808" stroke-width="1.3" fill="none"/>
<rect x="78.30" y="429.80" width="7.60" height="26.60" fill="#080808" stroke="#080808" stroke-width="1.1"/>
<path d="M82.10 429.80V419.00" stroke="#080808" stroke-width="1.0" fill="none"/><path d="M79.80 419.20H84.40" stroke="#080808" stroke-width="1.3" fill="none"/>
<text x="82.60" y="419.14" font-family="'Liberation Serif', serif" font-size="10.5" font-weight="normal" font-style="normal" text-anchor="middle" fill="#000" stroke="#000" stroke-width="0.15">*</text>
<rect x="94.60" y="399.20" width="7.90" height="57.20" fill="#fff" stroke="#080808" stroke-width="1.1"/>
<path d="M98.55 399.20V397.80" stroke="#080808" stroke-width="1.0" fill="none"/><path d="M96.25 398.00H100.85" stroke="#080808" stroke-width="1.3" fill="none"/>
<rect x="106.30" y="435.80" width="8.50" height="20.60" fill="#080808" stroke="#080808" stroke-width="1.1"/>
<path d="M110.55 435.80V422.30" stroke="#080808" stroke-width="1.0" fill="none"/><path d="M108.25 422.50H112.85" stroke="#080808" stroke-width="1.3" fill="none"/>
<text x="111.05" y="422.14" font-family="'Liberation Serif', serif" font-size="10.5" font-weight="normal" font-style="normal" text-anchor="middle" fill="#000" stroke="#000" stroke-width="0.15">*</text>
<text x="40.00" y="464.60" font-family="'Liberation Serif', serif" font-size="9.4" font-weight="bold" font-style="normal" text-anchor="middle" fill="#000" stroke="#000" stroke-width="0.38">-</text>
<text x="54.50" y="464.80" font-family="'Liberation Serif', serif" font-size="10" font-weight="bold" font-style="normal" text-anchor="middle" textLength="12.60" lengthAdjust="spacingAndGlyphs" fill="#000" stroke="#000" stroke-width="0.38">UO</text>
<text x="68.50" y="464.60" font-family="'Liberation Serif', serif" font-size="9.4" font-weight="bold" font-style="normal" text-anchor="middle" fill="#000" stroke="#000" stroke-width="0.38">-</text>
<text x="83.30" y="464.80" font-family="'Liberation Serif', serif" font-size="10" font-weight="bold" font-style="normal" text-anchor="middle" textLength="12.60" lengthAdjust="spacingAndGlyphs" fill="#000" stroke="#000" stroke-width="0.38">UO</text>
<text x="97.50" y="464.60" font-family="'Liberation Serif', serif" font-size="9.4" font-weight="bold" font-style="normal" text-anchor="middle" fill="#000" stroke="#000" stroke-width="0.38">-</text>
<text x="111.30" y="464.80" font-family="'Liberation Serif', serif" font-size="10" font-weight="bold" font-style="normal" text-anchor="middle" textLength="12.60" lengthAdjust="spacingAndGlyphs" fill="#000" stroke="#000" stroke-width="0.38">UO</text>
<path d="M37.5 467.7H58.8" stroke="#080808" stroke-width="1"/>
<text x="46.50" y="476.40" font-family="'Liberation Serif', serif" font-size="9.6" font-weight="bold" font-style="normal" text-anchor="middle" textLength="12.50" lengthAdjust="spacingAndGlyphs" fill="#000" stroke="#000" stroke-width="0.38">4 h</text>
<path d="M66 467.7H87.2" stroke="#080808" stroke-width="1"/>
<text x="75.40" y="476.40" font-family="'Liberation Serif', serif" font-size="9.6" font-weight="bold" font-style="normal" text-anchor="middle" textLength="14.30" lengthAdjust="spacingAndGlyphs" fill="#000" stroke="#000" stroke-width="0.38">10 h</text>
<path d="M94.8 467.7H116" stroke="#080808" stroke-width="1"/>
<text x="104.50" y="476.40" font-family="'Liberation Serif', serif" font-size="9.6" font-weight="bold" font-style="normal" text-anchor="middle" textLength="15.00" lengthAdjust="spacingAndGlyphs" fill="#000" stroke="#000" stroke-width="0.38">24 h</text>
<rect x="138.50" y="386.50" width="88.00" height="69.90" fill="none" stroke="#080808" stroke-width="1.2"/>
<text x="179.20" y="381.60" font-family="'Liberation Serif', serif" font-size="10" font-weight="normal" font-style="italic" text-anchor="middle" textLength="23.20" lengthAdjust="spacingAndGlyphs" fill="#000" stroke="#000" stroke-width="0.22">CCL2</text>
<path d="M136.60 399.70H138.40" stroke="#080808" stroke-width="1"/>
<text x="136.30" y="403.00" font-family="'Liberation Serif', serif" font-size="10" font-weight="bold" font-style="normal" text-anchor="end" textLength="12.00" lengthAdjust="spacingAndGlyphs" fill="#000" stroke="#000" stroke-width="0.38">1.0</text>
<path d="M136.60 411.14H138.40" stroke="#080808" stroke-width="1"/>
<text x="136.30" y="414.44" font-family="'Liberation Serif', serif" font-size="10" font-weight="bold" font-style="normal" text-anchor="end" textLength="12.00" lengthAdjust="spacingAndGlyphs" fill="#000" stroke="#000" stroke-width="0.38">0.8</text>
<path d="M136.60 422.58H138.40" stroke="#080808" stroke-width="1"/>
<text x="136.30" y="425.88" font-family="'Liberation Serif', serif" font-size="10" font-weight="bold" font-style="normal" text-anchor="end" textLength="12.00" lengthAdjust="spacingAndGlyphs" fill="#000" stroke="#000" stroke-width="0.38">0.6</text>
<path d="M136.60 434.02H138.40" stroke="#080808" stroke-width="1"/>
<text x="136.30" y="437.32" font-family="'Liberation Serif', serif" font-size="10" font-weight="bold" font-style="normal" text-anchor="end" textLength="12.00" lengthAdjust="spacingAndGlyphs" fill="#000" stroke="#000" stroke-width="0.38">0.4</text>
<path d="M136.60 445.46H138.40" stroke="#080808" stroke-width="1"/>
<text x="136.30" y="448.76" font-family="'Liberation Serif', serif" font-size="10" font-weight="bold" font-style="normal" text-anchor="end" textLength="12.00" lengthAdjust="spacingAndGlyphs" fill="#000" stroke="#000" stroke-width="0.38">0.2</text>
<rect x="143.80" y="399.50" width="8.20" height="56.90" fill="#fff" stroke="#080808" stroke-width="1.1"/>
<path d="M147.90 399.50V398.50" stroke="#080808" stroke-width="1.0" fill="none"/><path d="M145.60 398.70H150.20" stroke="#080808" stroke-width="1.3" fill="none"/>
<rect x="155.90" y="446.80" width="8.30" height="9.60" fill="#707070" stroke="#222" stroke-width="1.1"/>
<path d="M160.05 446.80V445.20" stroke="#080808" stroke-width="1.0" fill="none"/><path d="M157.75 445.40H162.35" stroke="#080808" stroke-width="1.3" fill="none"/>
<rect x="172.00" y="399.50" width="8.10" height="56.90" fill="#fff" stroke="#080808" stroke-width="1.1"/>
<path d="M176.05 399.50V398.50" stroke="#080808" stroke-width="1.0" fill="none"/><path d="M173.75 398.70H178.35" stroke="#080808" stroke-width="1.3" fill="none"/>
<rect x="184.30" y="413.80" width="8.20" height="42.60" fill="#707070" stroke="#222" stroke-width="1.1"/>
<path d="M188.40 413.80V407.10" stroke="#080808" stroke-width="1.0" fill="none"/><path d="M186.10 407.30H190.70" stroke="#080808" stroke-width="1.3" fill="none"/>
<rect x="200.60" y="399.50" width="7.60" height="56.90" fill="#fff" stroke="#080808" stroke-width="1.1"/>
<path d="M204.40 399.50V398.50" stroke="#080808" stroke-width="1.0" fill="none"/><path d="M202.10 398.70H206.70" stroke="#080808" stroke-width="1.3" fill="none"/>
<rect x="212.20" y="436.40" width="8.30" height="20.00" fill="#707070" stroke="#222" stroke-width="1.1"/>
<path d="M216.35 436.40V433.70" stroke="#080808" stroke-width="1.0" fill="none"/><path d="M214.05 433.90H218.65" stroke="#080808" stroke-width="1.3" fill="none"/>
<text x="146.30" y="465.20" font-family="'Liberation Serif', serif" font-size="9.4" font-weight="bold" font-style="normal" text-anchor="middle" fill="#000" stroke="#000" stroke-width="0.38">-</text>
<text x="160.90" y="465.20" font-family="'Liberation Serif', serif" font-size="9.6" font-weight="bold" font-style="normal" text-anchor="middle" textLength="12.00" lengthAdjust="spacingAndGlyphs" fill="#000" stroke="#000" stroke-width="0.38">PD</text>
<text x="175.00" y="465.20" font-family="'Liberation Serif', serif" font-size="9.4" font-weight="bold" font-style="normal" text-anchor="middle" fill="#000" stroke="#000" stroke-width="0.38">-</text>
<text x="189.80" y="465.20" font-family="'Liberation Serif', serif" font-size="9.6" font-weight="bold" font-style="normal" text-anchor="middle" textLength="12.00" lengthAdjust="spacingAndGlyphs" fill="#000" stroke="#000" stroke-width="0.38">PD</text>
<text x="203.50" y="465.20" font-family="'Liberation Serif', serif" font-size="9.4" font-weight="bold" font-style="normal" text-anchor="middle" fill="#000" stroke="#000" stroke-width="0.38">-</text>
<text x="217.80" y="465.20" font-family="'Liberation Serif', serif" font-size="9.6" font-weight="bold" font-style="normal" text-anchor="middle" textLength="12.00" lengthAdjust="spacingAndGlyphs" fill="#000" stroke="#000" stroke-width="0.38">PD</text>
<path d="M144.5 467.8H165" stroke="#080808" stroke-width="1"/>
<text x="153.80" y="476.00" font-family="'Liberation Serif', serif" font-size="9.6" font-weight="bold" font-style="normal" text-anchor="middle" textLength="12.50" lengthAdjust="spacingAndGlyphs" fill="#000" stroke="#000" stroke-width="0.38">4 h</text>
<path d="M173.2 467.8H195" stroke="#080808" stroke-width="1"/>
<text x="182.50" y="476.00" font-family="'Liberation Serif', serif" font-size="9.6" font-weight="bold" font-style="normal" text-anchor="middle" textLength="15.00" lengthAdjust="spacingAndGlyphs" fill="#000" stroke="#000" stroke-width="0.38">10 h</text>
<path d="M202 468.6H222.5" stroke="#080808" stroke-width="1"/>
<text x="211.90" y="476.80" font-family="'Liberation Serif', serif" font-size="9.6" font-weight="bold" font-style="normal" text-anchor="middle" textLength="16.20" lengthAdjust="spacingAndGlyphs" fill="#000" stroke="#000" stroke-width="0.38">24 h</text>
<rect x="304.20" y="387.30" width="160.10" height="69.90" fill="none" stroke="#080808" stroke-width="1.2"/>
<path d="M302.00 399.60H303.80" stroke="#080808" stroke-width="1"/>
<text x="301.50" y="403.10" font-family="'Liberation Serif', serif" font-size="10.8" font-weight="bold" font-style="normal" text-anchor="end" textLength="13.20" lengthAdjust="spacingAndGlyphs" fill="#000" stroke="#000" stroke-width="0.38">1.0</text>
<path d="M302.00 411.14H303.80" stroke="#080808" stroke-width="1"/>
<text x="301.50" y="414.64" font-family="'Liberation Serif', serif" font-size="10.8" font-weight="bold" font-style="normal" text-anchor="end" textLength="13.20" lengthAdjust="spacingAndGlyphs" fill="#000" stroke="#000" stroke-width="0.38">0.8</text>
<path d="M302.00 422.68H303.80" stroke="#080808" stroke-width="1"/>
<text x="301.50" y="426.18" font-family="'Liberation Serif', serif" font-size="10.8" font-weight="bold" font-style="normal" text-anchor="end" textLength="13.20" lengthAdjust="spacingAndGlyphs" fill="#000" stroke="#000" stroke-width="0.38">0.6</text>
<path d="M302.00 434.22H303.80" stroke="#080808" stroke-width="1"/>
<text x="301.50" y="437.72" font-family="'Liberation Serif', serif" font-size="10.8" font-weight="bold" font-style="normal" text-anchor="end" textLength="13.20" lengthAdjust="spacingAndGlyphs" fill="#000" stroke="#000" stroke-width="0.38">0.4</text>
<path d="M302.00 445.76H303.80" stroke="#080808" stroke-width="1"/>
<text x="301.50" y="449.26" font-family="'Liberation Serif', serif" font-size="10.8" font-weight="bold" font-style="normal" text-anchor="end" textLength="13.20" lengthAdjust="spacingAndGlyphs" fill="#000" stroke="#000" stroke-width="0.38">0.2</text>
<text x="279.20" y="444.60" font-family="'Liberation Serif', serif" font-size="9.2" font-weight="bold" font-style="normal" textLength="48.60" lengthAdjust="spacingAndGlyphs" transform="rotate(-90 279.20 444.60)" fill="#000" stroke="#000" stroke-width="0.38">CCL2 ng/ml</text>
<rect x="311.90" y="418.30" width="12.10" height="38.90" fill="#fff" stroke="#080808" stroke-width="1.1"/>
<path d="M317.95 418.30V402.50" stroke="#080808" stroke-width="1.0" fill="none"/><path d="M315.65 402.70H320.25" stroke="#080808" stroke-width="1.3" fill="none"/>
<rect x="324.00" y="432.50" width="11.00" height="24.70" fill="#080808" stroke="#080808" stroke-width="1.1"/>
<path d="M329.50 432.50V423.50" stroke="#080808" stroke-width="1.0" fill="none"/><path d="M327.20 423.70H331.80" stroke="#080808" stroke-width="1.3" fill="none"/>
<rect x="335.00" y="437.80" width="11.00" height="19.40" fill="#707070" stroke="#222" stroke-width="1.1"/>
<path d="M340.50 437.80V430.80" stroke="#080808" stroke-width="1.0" fill="none"/><path d="M338.20 431.00H342.80" stroke="#080808" stroke-width="1.3" fill="none"/>
<text x="328.90" y="422.34" font-family="'Liberation Serif', serif" font-size="10.5" font-weight="normal" font-style="normal" text-anchor="middle" fill="#000" stroke="#000" stroke-width="0.15">*</text>
<text x="339.90" y="429.04" font-family="'Liberation Serif', serif" font-size="10.5" font-weight="normal" font-style="normal" text-anchor="middle" fill="#000" stroke="#000" stroke-width="0.15">*</text>
<rect x="367.50" y="414.00" width="11.30" height="43.20" fill="#fff" stroke="#080808" stroke-width="1.1"/>
<path d="M373.15 414.00V397.60" stroke="#080808" stroke-width="1.0" fill="none"/><path d="M370.85 397.80H375.45" stroke="#080808" stroke-width="1.3" fill="none"/>
<rect x="378.80" y="437.80" width="11.00" height="19.40" fill="#080808" stroke="#080808" stroke-width="1.1"/>
<path d="M384.30 437.80V430.20" stroke="#080808" stroke-width="1.0" fill="none"/><path d="M382.00 430.40H386.60" stroke="#080808" stroke-width="1.3" fill="none"/>
<rect x="389.80" y="422.50" width="11.60" height="34.70" fill="#707070" stroke="#222" stroke-width="1.1"/>
<path d="M395.60 422.50V405.20" stroke="#080808" stroke-width="1.0" fill="none"/><path d="M393.30 405.40H397.90" stroke="#080808" stroke-width="1.3" fill="none"/>
<text x="383.70" y="427.94" font-family="'Liberation Serif', serif" font-size="10.5" font-weight="normal" font-style="normal" text-anchor="middle" fill="#000" stroke="#000" stroke-width="0.15">*</text>
<rect x="423.30" y="425.50" width="11.00" height="31.70" fill="#fff" stroke="#080808" stroke-width="1.1"/>
<path d="M428.80 425.50V416.80" stroke="#080808" stroke-width="1.0" fill="none"/><path d="M426.50 417.00H431.10" stroke="#080808" stroke-width="1.3" fill="none"/>
<rect x="434.30" y="436.30" width="11.10" height="20.90" fill="#080808" stroke="#080808" stroke-width="1.1"/>
<path d="M439.85 436.30V432.50" stroke="#080808" stroke-width="1.0" fill="none"/><path d="M437.55 432.70H442.15" stroke="#080808" stroke-width="1.3" fill="none"/>
<rect x="445.40" y="426.80" width="11.10" height="30.40" fill="#707070" stroke="#222" stroke-width="1.1"/>
<path d="M450.95 426.80V419.50" stroke="#080808" stroke-width="1.0" fill="none"/><path d="M448.65 419.70H453.25" stroke="#080808" stroke-width="1.3" fill="none"/>
<text x="329.70" y="470.60" font-family="'Liberation Serif', serif" font-size="10" font-weight="bold" font-style="normal" text-anchor="middle" textLength="10.70" lengthAdjust="spacingAndGlyphs" fill="#000" stroke="#000" stroke-width="0.38">4h</text>
<text x="382.60" y="470.60" font-family="'Liberation Serif', serif" font-size="10" font-weight="bold" font-style="normal" text-anchor="middle" textLength="14.40" lengthAdjust="spacingAndGlyphs" fill="#000" stroke="#000" stroke-width="0.38">10h</text>
<text x="438.10" y="470.60" font-family="'Liberation Serif', serif" font-size="10" font-weight="bold" font-style="normal" text-anchor="middle" textLength="14.80" lengthAdjust="spacingAndGlyphs" fill="#000" stroke="#000" stroke-width="0.38">24h</text>
<rect x="472.1" y="392.9" width="7.6" height="6.9" fill="#fff" stroke="#080808" stroke-width="1.1"/>
<rect x="471.6" y="403.2" width="8.6" height="7.6" fill="#080808"/>
<rect x="472.1" y="415.7" width="7.6" height="6.9" fill="#707070" stroke="#222" stroke-width="1"/>
<text x="486.20" y="397.90" font-family="'Liberation Serif', serif" font-size="10" font-weight="bold" font-style="normal" text-anchor="middle" fill="#000" stroke="#000" stroke-width="0.38">-</text>
<text x="482.90" y="410.30" font-family="'Liberation Serif', serif" font-size="10.6" font-weight="bold" font-style="normal" textLength="24.80" lengthAdjust="spacingAndGlyphs" fill="#000" stroke="#000" stroke-width="0.38">U0126</text>
<text x="482.90" y="422.20" font-family="'Liberation Serif', serif" font-size="10.6" font-weight="bold" font-style="normal" textLength="35.80" lengthAdjust="spacingAndGlyphs" fill="#000" stroke="#000" stroke-width="0.38">PD98059</text>
</g>
</svg>
</body></html>
